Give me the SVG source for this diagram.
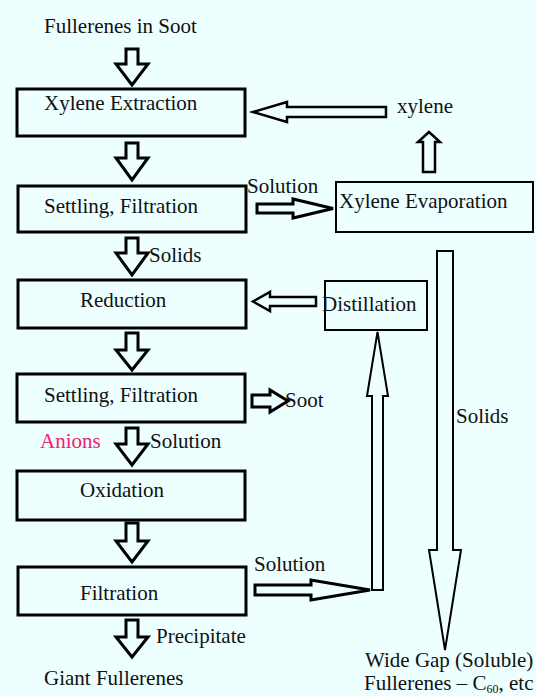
<svg xmlns="http://www.w3.org/2000/svg" width="536" height="696" viewBox="0 0 536 696">
<style>
.t{font-family:"Liberation Serif","Times New Roman",serif;font-size:21px;fill:#111}
.pink{fill:#F3206F}
.box{fill:none;stroke:#000;stroke-width:3}
.box2{fill:none;stroke:#000;stroke-width:2}
.arr{fill:none;stroke:#000;stroke-width:3;stroke-linejoin:miter}
.arr2{fill:none;stroke:#000;stroke-width:2.5;stroke-linejoin:miter}
.arr3{fill:none;stroke:#000;stroke-width:2;stroke-linejoin:miter}
</style>
<rect width="536" height="696" fill="#EDFFFE"/>
<g id="connectors">
<polygon class="arr" points="126,49 138,49 138,64 148,64 132,85 116,64 126,64"/>
<polygon class="arr" points="126,143 138,143 138,158 148,158 132,180 116,158 126,158"/>
<polygon class="arr" points="126,238 138,238 138,253 148,253 132,275 116,253 126,253"/>
<polygon class="arr" points="126,333 138,333 138,350 148,350 132,370 116,350 126,350"/>
<polygon class="arr" points="126,428 138,428 138,444 148,444 132,465 116,444 126,444"/>
<polygon class="arr" points="126,523 138,523 138,541 148,541 132,562 116,541 126,541"/>
<polygon class="arr" points="126,620 138,620 138,637 148,637 132,657 116,637 126,637"/>
<polygon class="arr2" points="386,107 287,107 287,102 253,112 287,122 287,117 386,117"/>
<polygon class="arr2" points="423,172 435,172 435,142 440,142 429,132 418,142 423,142"/>
<polygon class="arr" points="257,204 293,204 293,199 333,208.5 293,218 293,213 257,213"/>
<polygon class="arr" points="252,395 270,395 270,390 288,401 270,412 270,407 252,407"/>
<polygon class="arr2" points="316,297 270,297 270,292 253,301.5 270,311 270,306 316,306"/>
<polygon class="arr3" points="437,251 453,251 453,550 461,550 445,650 429,550 437,550"/>
<polygon class="arr3" points="372,590 383,590 383,396 388,396 377.5,332 367,396 372,396"/>
<polygon class="arr" points="255,585 311,585 311,580 370,590 311,600 311,595 255,595"/>
</g>
<g id="start"><text class="t" x="44" y="33">Fullerenes in Soot</text></g>
<g id="xylene-extraction"><rect class="box" x="17" y="89" width="228" height="47"/><text class="t" x="44" y="110">Xylene Extraction</text></g>
<g id="settling1"><rect class="box" x="18" y="186" width="228" height="46"/><text class="t" x="44" y="213">Settling, Filtration</text></g>
<g id="reduction"><rect class="box" x="18" y="280" width="228" height="48"/><text class="t" x="80" y="307">Reduction</text></g>
<g id="settling2"><rect class="box" x="17" y="374" width="228" height="48"/><text class="t" x="44" y="402">Settling, Filtration</text></g>
<g id="oxidation"><rect class="box" x="17" y="471" width="228" height="49"/><text class="t" x="80" y="497">Oxidation</text></g>
<g id="filtration"><rect class="box" x="18" y="567" width="228" height="48"/><text class="t" x="80" y="600">Filtration</text></g>
<g id="giant"><text class="t" x="44" y="685">Giant Fullerenes</text></g>
<g id="xylene-evaporation"><rect class="box2" x="336" y="182" width="197" height="50"/><text class="t" x="339" y="208">Xylene Evaporation</text></g>
<g id="distillation"><rect class="box2" x="325" y="281" width="102" height="49"/><text class="t" x="322" y="311">Distillation</text></g>
<g id="xylene"><text class="t" x="397" y="113">xylene</text></g>
<g id="wide-gap"><text class="t" x="365" y="667">Wide Gap (Soluble)</text><text class="t" x="364" y="690" font-size="20">Fullerenes – C<tspan font-size="12" dy="3">60</tspan><tspan dy="-3">, etc</tspan></text></g>
<g id="labels">
<text class="t" x="247" y="193">Solution</text>
<text class="t" x="149" y="262">Solids</text>
<text class="t" x="285" y="407">Soot</text>
<text class="t pink" x="40" y="448">Anions</text>
<text class="t" x="150" y="448">Solution</text>
<text class="t" x="254" y="571">Solution</text>
<text class="t" x="156" y="643">Precipitate</text>
<text class="t" x="456" y="423">Solids</text>
</g>
</svg>
